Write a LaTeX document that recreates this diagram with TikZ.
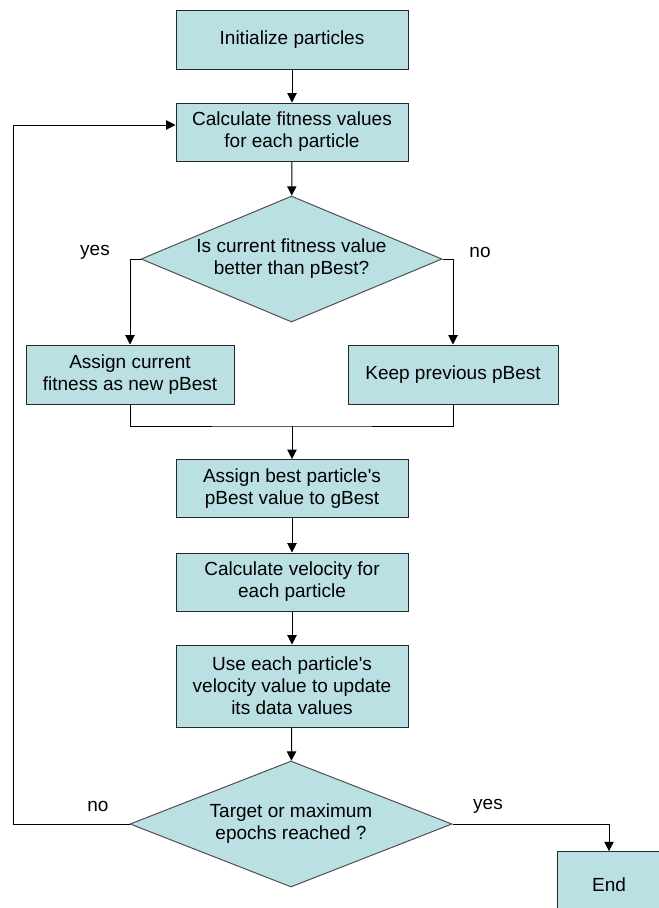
\documentclass[tikz,border=0pt]{standalone}
\usepackage{fontspec}
\setmainfont{Liberation Sans}
\usepackage{tikz}
\usetikzlibrary{arrows.meta}
\usetikzlibrary{positioning}
\usetikzlibrary{shapes.geometric}
\definecolor{mteal}{RGB}{186, 224, 227}
\definecolor{mline}{RGB}{40, 40, 40}
\definecolor{medge}{RGB}{80, 80, 80}
\tikzset{proc/.style = {draw = mline, fill = mteal, line width = 0.75pt, align = center,
                        inner sep = 0, minimum width = 174pt, minimum height = 43.5pt,
                        font = \fontsize{14.25pt}{16.5pt}\selectfont}}
\tikzset{decide/.style = {draw = medge, fill = mteal, line width = 0.75pt, align = center,
                          diamond, aspect = 2.4, inner sep = 0, minimum height = 94.5pt,
                          font = \fontsize{14.25pt}{16.5pt}\selectfont}}
\tikzset{lbl/.style = {font = \fontsize{14.25pt}{16.5pt}\selectfont}}
\tikzset{arr/.style = {draw = black, line width = 0.75pt, -{Triangle[length = 7pt, width = 7pt]}}}
\tikzset{wire/.style = {draw = black, line width = 0.75pt}}

\begin{document}
\begin{tikzpicture}[x = 0.75pt, y = -0.75pt]
          \useasboundingbox (0, 0) rectangle (659, 908);
          \clip (0, 0) rectangle (659, 908);

          \node [proc, minimum height = 44.25pt] (init) at (292, 39.5) {Initialize particles};
          \node [proc] (fit) at (292, 132) {Calculate fitness values\\for each particle};
          \node [decide, minimum width = 225.75pt] (cmp) at (291.5, 259) {Is current fitness value\\better than pBest?};
          \node [proc, minimum width = 156pt, minimum height = 44.25pt] (cur) at (130, 374.5) {Assign current\\fitness as new pBest};
          \node [proc, minimum width = 157.5pt, minimum height = 44.25pt] (keep) at (453, 374.5) {Keep previous pBest};
          \node [proc] (best) at (292, 488.5) {Assign best particle\textquotesingle s\\pBest value to gBest};
          \node [proc] (vel) at (292, 582) {Calculate velocity for\\each particle};
          \node [proc, minimum height = 61.5pt] (upd) at (292, 686) {Use each particle\textquotesingle s\\velocity value to update\\its data values};
          \node [decide, minimum width = 241.5pt] (stop) at (291, 824) {Target or maximum\\epochs reached ?};
          \node [proc, minimum width = 78pt, minimum height = 50pt] (end) at (609, 885) {End};

          \coordinate (mrg) at (292, 426);
          \coordinate (back) at (13, 125);

          \draw [arr] (init) -- (fit);
          \draw [arr] (fit) -- (cmp);
          \draw [arr] (cmp.west) -| (cur.north);
          \draw [arr] (cmp.east) -| (keep.north);
          \draw [wire] (cur.south) |- (mrg) -| (keep.south);
          \draw [arr] (mrg) -- (best);
          \draw [arr] (best) -- (vel);
          \draw [arr] (vel) -- (upd);
          \draw [arr] (upd) -- (stop);
          \draw [arr] (stop.east) -| (end.north);
          \draw [arr] (stop.west) -| (back) -- (fit.west |- back);

          \node [lbl] (yes1) at (95, 252) {yes};
          \node [lbl] (no1) at (480, 252) {no};
          \node [lbl] (no2) at (98, 806) {no};
          \node [lbl] (yes2) at (488, 806) {yes};
        \end{tikzpicture}
\end{document}
